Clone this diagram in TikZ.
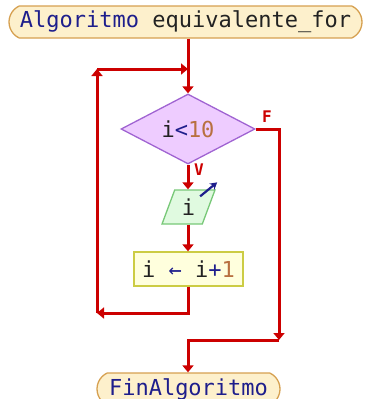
\documentclass[tikz,border=0pt]{standalone}
\usepackage{fontspec}
\newfontfamily\codefont{DejaVu Sans Mono}
\usetikzlibrary{positioning,arrows.meta,shapes.geometric,shapes.misc,calc}
\definecolor{flowred}{RGB}{204,0,0}
\definecolor{flownavy}{RGB}{30,30,140}
\definecolor{flowink}{RGB}{34,34,34}
\definecolor{flownum}{RGB}{184,112,64}
\definecolor{termfill}{RGB}{253,240,204}
\definecolor{termedge}{RGB}{214,160,80}
\definecolor{condfill}{RGB}{238,204,255}
\definecolor{condedge}{RGB}{160,100,210}
\definecolor{outfill}{RGB}{224,250,224}
\definecolor{outedge}{RGB}{120,200,120}
\definecolor{assignfill}{RGB}{255,255,221}
\definecolor{assignedge}{RGB}{204,204,68}

\begin{document}
\begin{tikzpicture}[x=1pt,y=-1pt,font=\codefont\fontsize{22}{26}\selectfont,
    terminal/.style={rounded rectangle,rounded rectangle arc length=130,
        draw=termedge,fill=termfill,line width=1.3pt,minimum height=32pt,inner sep=0pt},
    decision/.style={diamond,draw=condedge,fill=condfill,line width=1.3pt,
        minimum width=134pt,minimum height=67pt,inner sep=0pt},
    output/.style={trapezium,trapezium left angle=70,trapezium right angle=110,
        trapezium stretches=true,draw=outedge,fill=outfill,line width=1.3pt,
        minimum width=53pt,minimum height=34pt,inner sep=0pt},
    process/.style={rectangle,draw=assignedge,fill=assignfill,line width=1.3pt,
        minimum width=109pt,minimum height=34pt,inner sep=0pt},
    flow/.style={draw=flowred,line width=3pt,-{Triangle[length=7pt,width=11pt]}},
    branch/.style={text=flowred,font=\codefont\bfseries\fontsize{16}{18}\selectfont}]
    \useasboundingbox (0,0) rectangle (365,399);
    % nodes
    \node[terminal,minimum width=353pt] (start) at (185.5,22)
        {{\color{flownavy}Algoritmo} {\color{flowink}equivalente\_for}};
    \node[decision] (cond) at (188,129)
        {{\color{flowink}i}{\color{flownavy}<}{\color{flownum}10}};
    \node[output] (outp) at (188.5,207) {\color{flowink}i};
    \node[process] (assign) at (188.5,269)
        {{\color{flowink}i} {\color{flownavy}←} {\color{flowink}i}{\color{flownavy}+}{\color{flownum}1}};
    \node[terminal,minimum width=183pt] (finish) at (188.5,389)
        {\color{flownavy}FinAlgoritmo};
    \node[branch] (flabel) at (267,117) {F};
    \node[branch] (vlabel) at (199,170) {V};
    % corners of the loop and of the false branch
    \coordinate (looptop) at (188,69);
    \coordinate (loopleft) at (97,69);
    \coordinate (loopbot) at (97,313);
    \coordinate (loopdrop) at (188,313);
    \coordinate (falseright) at (279,129);
    \coordinate (falsebot) at (279,340);
    \coordinate (falsemerge) at (188,340);
    % connectors
    \draw[flow] (start.south -| cond.north) -- (cond.north);
    \draw[flow] (cond.south) -- (cond.south |- outp.north);
    \draw[flow] (cond.south |- outp.south) -- (cond.south |- assign.north);
    \draw[flow] (assign.south -| cond.south) -- (loopdrop) -- (loopbot);
    \draw[flow] (loopbot) -- (loopleft);
    \draw[flow] (loopleft) -- (looptop);
    \draw[flow] (cond.east) -- (falseright) -- (falsebot);
    \draw[flow] (falsebot) -- (falsemerge) -- (finish.north -| falsemerge);
    % output mark
    \draw[flownavy,line width=2.2pt,-{Stealth[length=7pt,width=8pt]}]
        ($(outp.north east)+(-6,7)$) -- ($(outp.north east)+(11,-7)$);
\end{tikzpicture}
\end{document}
